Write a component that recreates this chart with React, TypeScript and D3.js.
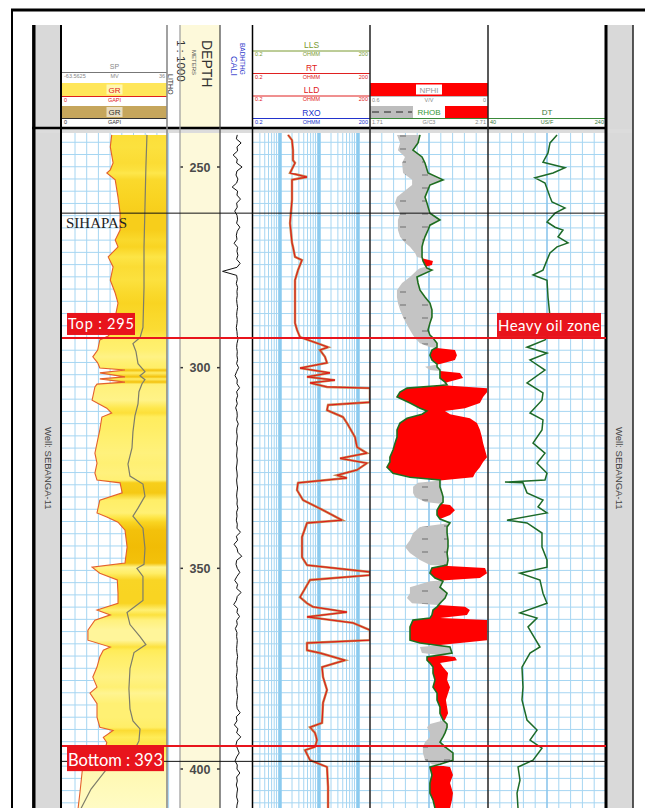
import React, { useEffect, useRef } from "react";
import * as d3 from "d3";

// depth labels on the depth track
const depthTicks = [250, 300, 350, 400];

// GR (GAPI) by depth (m)
const grLog: [number, number][] = [
  [242.0, 71], [245.0, 69], [249.0, 73], [250.7, 69], [251.5, 64], [253.2, 76], [257.5, 80],
  [261.5, 83], [265.7, 83], [268.2, 76], [269.9, 80], [272.4, 66], [274.9, 73], [278.2, 69],
  [281.4, 76], [283.9, 80], [287.4, 76], [290.6, 73], [292.1, 66], [293.1, 54], [295.6, 51],
  [297.3, 44], [298.8, 51], [300.1, 54], [300.6, 90], [301.3, 54], [302.3, 90], [302.8, 54],
  [303.6, 90], [304.1, 50], [304.8, 47], [308.1, 43], [310.1, 64], [311.3, 71], [312.3, 57],
  [315.5, 54], [318.0, 51], [321.3, 47], [323.8, 50], [326.3, 47], [328.0, 50], [328.7, 83],
  [331.2, 86], [333.0, 54], [336.2, 50], [337.2, 64], [338.5, 80], [340.5, 90], [344.7, 93],
  [348.7, 90], [349.7, 43], [351.2, 54], [352.9, 79], [356.2, 80], [358.7, 80], [360.4, 50],
  [361.6, 69], [362.9, 47], [365.4, 37], [367.9, 37], [369.6, 69], [370.4, 59], [372.1, 54],
  [374.6, 50], [377.1, 44], [379.6, 50], [381.1, 40], [383.7, 50], [387.1, 50], [389.6, 54],
  [390.4, 73], [392.1, 59], [393.4, 64], [395.4, 61], [400.3, 29], [405.3, 26], [409.8, 23],
];

// SP (mV) by depth
const spLog: [number, number][] = [
  [242.0, 17.0], [250.0, 16.0], [260.0, 15.1], [270.0, 14.2], [280.0, 14.2], [290.0, 13.2],
  [292.5, 10.4], [294.0, 3.7], [296.0, 6.6], [299.0, 8.5], [301.0, 15.1], [302.0, 10.4],
  [303.0, 15.1], [304.0, 12.3], [306.0, 9.4], [309.0, 8.5], [312.0, 5.6], [316.0, 3.7],
  [320.0, 2.8], [324.0, -1.0], [327.0, 0.9], [329.0, 13.2], [332.0, 15.1], [335.0, 8.5],
  [337.0, 3.7], [340.0, 13.2], [345.0, 15.1], [349.0, 14.2], [350.0, 7.5], [352.0, 13.2],
  [358.0, 13.2], [361.0, -1.9], [364.0, 0.9], [367.0, 10.4], [369.0, 16.0], [371.0, 4.7],
  [375.0, 0.9], [380.0, -0.1], [385.0, 0.9], [388.0, 3.7], [390.0, 10.4], [393.0, 9.4],
  [396.0, 3.7], [399.9, -20.9], [405.0, -36.0], [409.8, -45.5],
];

// caliper (in), one sample per metre from 242 m
const caliTop = 242;
const caliValues = [
  11.4, 11.1, 12.6, 11.3, 11.5, 10.1, 11.4, 11.2, 12.9, 11.3, 11.0, 11.6, 11.2, 9.8, 11.5, 11.3,
  12.4, 11.2, 11.4, 10.6, 11.3,
  11.5, 11.2, 12.2, 11.4, 11.1, 11.3, 10.4, 11.5, 11.3, 11.6, 11.2, 12.3, 11.3, 6.8, 11.2, 11.4,
  11.1, 11.5,
  11.3, 11.4, 11.2, 11.3, 11.5, 11.3, 11.2, 11.4, 11.3, 11.1, 11.3, 11.4, 11.6, 11.3, 11.2, 11.4,
  11.3, 11.5, 11.2,
  11.8, 11.2, 10.7, 11.4, 11.3, 12.1, 11.2, 11.5, 11.1, 11.4, 10.9, 11.3, 11.4, 11.2, 11.7, 11.3,
  11.2, 11.4, 11.3, 11.1, 11.4,
  11.3, 11.2, 11.4, 11.3, 11.1, 11.3, 11.4, 11.2, 11.3, 11.5, 11.3, 11.2, 11.4, 11.3, 11.6, 11.2,
  11.3, 11.1, 11.4,
  11.3, 12.4, 11.1, 11.5, 10.4, 11.3, 11.6, 12.8, 11.2, 11.0, 11.4, 12.2, 11.3, 10.6, 11.5, 11.2,
  12.6, 11.4, 11.1, 10.3, 11.5, 11.3, 12.1, 11.2, 11.4, 10.8,
  11.3, 11.2, 11.4, 11.3, 11.2, 11.3, 11.5, 11.3, 11.2, 11.4, 11.3, 11.1, 11.3, 11.4, 11.2, 11.3,
  11.5, 11.3, 11.2,
  11.4, 12.3, 11.1, 11.3, 10.5, 11.6, 11.2, 12.5, 11.3, 11.0, 11.5, 12.0, 11.2, 10.7, 11.4, 11.3,
  12.2,
  11.2, 11.4, 11.1, 11.5, 11.3, 11.2, 11.6, 11.3, 11.2,
];

// LLD resistivity (ohmm) by depth
const resLog: [number, number][] = [
  [242.0, 1.58], [243.3, 2.0], [245.8, 2.12], [248.3, 2.12], [249.0, 2.39], [251.5, 1.78],
  [252.5, 4.85], [253.2, 2.0], [258.2, 2.0], [264.0, 1.78], [268.9, 2.0], [269.9, 2.12],
  [272.4, 2.39], [273.2, 3.6], [275.7, 2.85], [278.2, 2.39], [283.1, 2.39], [288.9, 2.39],
  [290.6, 2.69], [292.4, 3.21], [293.9, 8.75], [294.9, 16.8], [295.6, 10.4], [297.3, 14.0],
  [298.8, 15.8], [300.1, 3.21], [301.3, 18.8], [302.3, 4.85], [303.1, 25.3], [303.8, 5.79],
  [304.8, 15.8], [305.1, 200], [308.6, 200], [309.3, 16.8], [310.6, 15.8], [312.3, 40.6],
  [313.8, 51.4], [317.3, 82.5], [319.8, 92.9], [321.3, 167], [322.6, 34.0], [323.8, 167],
  [325.5, 92.9], [326.8, 28.5], [327.5, 51.4], [328.7, 2.85], [330.5, 2.69], [333.0, 3.83],
  [335.5, 12.5], [338.0, 38.3], [338.7, 4.85], [342.2, 3.61], [347.2, 3.61], [349.2, 4.85],
  [350.9, 200], [351.7, 200], [352.9, 5.79], [357.2, 3.21], [358.7, 4.85], [359.6, 6.91],
  [360.9, 51.4], [362.1, 4.85], [363.6, 73.3], [365.4, 200], [367.9, 200], [368.6, 4.85],
  [370.4, 4.85], [371.1, 10.4], [372.9, 45.7], [374.6, 11.8], [377.1, 12.5], [380.3, 15.8],
  [383.5, 12.5], [388.5, 11.8], [389.6, 5.79], [391.0, 7.78], [392.8, 8.75], [394.5, 7.78],
  [395.3, 4.31], [397.8, 5.79], [399.5, 15.8], [404.5, 16.8], [409.8, 16.8],
];

// depth (m), RHOB (g/cc), NPHI (v/v)
const densityLog: [number, number, number][] = [
  [242.0, 2.134, 0.463], [244.0, 2.117, 0.447], [245.8, 2.074, 0.458], [247.5, 2.151, 0.422],
  [249.0, 2.176, 0.437], [251.5, 2.202, 0.432], [253.2, 2.329, 0.386], [254.5, 2.218, 0.386],
  [257.5, 2.176, 0.463], [259.0, 2.193, 0.473], [261.5, 2.218, 0.447], [263.2, 2.303, 0.458],
  [264.5, 2.218, 0.458], [265.7, 2.202, 0.458], [267.4, 2.176, 0.447], [268.9, 2.159, 0.422],
  [269.9, 2.151, 0.397], [271.4, 2.151, 0.371], [272.4, 2.151, 0.361], [273.4, 2.159, 0.280],
  [274.4, 2.176, 0.285], [275.2, 2.193, 0.346], [275.7, 2.235, 0.361], [277.4, 2.108, 0.397],
  [278.9, 2.117, 0.437], [280.7, 2.134, 0.463], [282.4, 2.176, 0.463], [283.9, 2.218, 0.458],
  [285.6, 2.235, 0.447], [287.4, 2.235, 0.432], [288.9, 2.218, 0.417], [290.6, 2.202, 0.397],
  [291.9, 2.218, 0.381], [292.6, 2.244, 0.371], [293.9, 2.278, 0.346], [294.9, 2.278, 0.295],
  [295.6, 2.235, 0.168], [296.9, 2.218, 0.158], [298.1, 2.235, 0.168], [299.1, 2.278, 0.244],
  [299.8, 2.278, 0.320], [300.6, 2.303, 0.295], [301.3, 2.303, 0.142], [302.6, 2.303, 0.127],
  [303.6, 2.346, 0.203], [304.3, 2.363, 0.244], [305.1, 2.024, 0.005], [306.1, 1.964, 0.005],
  [307.3, 1.939, 0.025], [308.8, 2.049, 0.041], [310.1, 2.134, 0.117], [310.8, 2.193, 0.219],
  [311.6, 2.151, 0.193], [312.6, 2.024, 0.092], [313.8, 1.964, 0.056], [315.5, 1.939, 0.041],
  [317.3, 1.939, 0.031], [318.8, 1.922, 0.025], [320.5, 1.905, 0.015], [322.3, 1.879, 0.005],
  [323.5, 1.879, 0.025], [324.8, 1.854, 0.041], [326.3, 1.905, 0.066], [327.3, 2.049, 0.076],
  [328.0, 2.303, 0.219], [328.7, 2.303, 0.356], [329.7, 2.303, 0.381], [331.2, 2.320, 0.381],
  [332.2, 2.329, 0.371], [333.5, 2.329, 0.320], [334.2, 2.303, 0.193], [335.5, 2.278, 0.168],
  [336.7, 2.278, 0.193], [337.7, 2.303, 0.244], [338.7, 2.388, 0.193], [339.7, 2.363, 0.346],
  [341.2, 2.363, 0.381], [343.0, 2.371, 0.397], [344.7, 2.371, 0.422], [346.2, 2.363, 0.397],
  [347.9, 2.371, 0.346], [349.2, 2.363, 0.295], [349.9, 2.235, 0.015], [351.2, 2.218, 0.005],
  [352.4, 2.261, 0.041], [353.2, 2.329, 0.295], [354.7, 2.303, 0.397], [356.2, 2.363, 0.397],
  [357.4, 2.346, 0.412], [358.7, 2.303, 0.386], [359.6, 2.278, 0.117], [360.4, 2.244, 0.092],
  [361.6, 2.235, 0.107], [362.4, 2.218, 0.244], [362.9, 2.074, 0.005], [364.6, 2.049, 0.005],
  [366.1, 2.049, 0.005], [367.9, 2.049, 0.005], [368.6, 2.134, 0.142], [369.6, 2.388, 0.346],
  [371.1, 2.405, 0.336], [372.1, 2.193, 0.168], [372.9, 2.193, 0.158], [373.6, 2.218, 0.244],
  [374.6, 2.244, 0.229], [376.1, 2.244, 0.203], [377.8, 2.261, 0.208], [379.6, 2.244, 0.193],
  [381.1, 2.278, 0.203], [382.8, 2.278, 0.214], [384.6, 2.303, 0.208], [386.1, 2.303, 0.203],
  [387.8, 2.329, 0.219], [388.8, 2.363, 0.295], [389.6, 2.363, 0.310], [391.0, 2.346, 0.295],
  [392.0, 2.329, 0.295], [393.3, 2.303, 0.320], [394.5, 2.346, 0.331], [396.0, 2.413, 0.331],
  [397.8, 2.413, 0.320], [398.8, 2.303, 0.285], [399.5, 2.218, 0.193], [401.5, 2.235, 0.178],
  [403.5, 2.218, 0.193], [406.0, 2.218, 0.178], [407.7, 2.244, 0.183], [409.8, 2.261, 0.193],
];

// DT (us/ft) by depth
const dtLog: [number, number][] = [
  [242.0, 157.0], [244.0, 145.1], [246.5, 141.7], [248.8, 133.2], [250.2, 170.5], [251.5, 150.2],
  [252.7, 119.7], [254.0, 136.6], [257.5, 145.1], [258.7, 148.5], [260.2, 170.5], [261.5, 153.6],
  [263.7, 140.0], [265.0, 153.6], [265.7, 167.1], [267.4, 158.7], [268.9, 175.6], [269.9, 157.0],
  [271.4, 145.1], [273.2, 140.0], [275.7, 133.2], [276.9, 116.3], [278.2, 140.0], [282.4, 141.7],
  [287.4, 145.1], [290.6, 148.5], [293.1, 136.6], [294.9, 106.1], [296.4, 140.0], [298.1, 111.2],
  [300.6, 136.6], [303.8, 106.1], [306.3, 133.2], [308.1, 131.5], [311.3, 111.2], [313.0, 133.2],
  [315.5, 131.5], [318.8, 116.3], [321.3, 136.6], [323.8, 123.1], [326.3, 140.0], [328.0, 136.6],
  [328.5, 68.8], [328.7, 99.3], [331.2, 106.1], [333.0, 133.2], [334.7, 124.8], [336.2, 140.0],
  [338.0, 72.2], [338.7, 106.1], [341.2, 131.5], [344.7, 131.5], [347.9, 140.0], [349.7, 140.0],
  [351.2, 94.2], [352.9, 128.1], [356.2, 133.2], [358.7, 140.0], [361.1, 94.2], [362.4, 123.1],
  [364.6, 107.8], [369.6, 128.1], [371.1, 111.2], [374.6, 97.6], [379.6, 99.3], [382.8, 97.6],
  [387.8, 106.1], [390.3, 123.1], [392.8, 111.2], [394.8, 131.5], [397.8, 116.3], [399.5, 90.9],
  [402.8, 94.2], [406.0, 89.2], [409.8, 90.9],
];

// formation markers
const markerNames = ["SIHAPAS", ""];
const markerDepths = [261.5, 398.1];

// zone top / bottom picks
const zoneLabels = ["Top : 295", "Bottom : 393"];
const zoneDepths = [292.6, 394.3];
const zoneNote = "Heavy oil zone";

const wellName = "Well: SEBANGA-11";

const App = () => {
  const svgRef = useRef<SVGSVGElement>(null);

  useEffect(() => {
    const svg = d3.select(svgRef.current);
    svg.selectAll("*").remove();

    const W = 645;
    const H = 808;
    const headTop = 25;
    const bodyTop = 133;

    const tr = {
      gr: [62, 167],
      litho: [167, 180],
      depth: [180, 220],
      cali: [220, 252],
      res: [253, 370],
      dens: [370, 488],
      dt: [488, 606],
    };

    const y = d3.scaleLinear().domain([250, 400]).range([167, 769]);
    const grX = d3.scaleLinear().domain([0, 150]).range(tr.gr);
    const spX = d3.scaleLinear().domain([-63.5625, 36]).range(tr.gr);
    const caliX = d3.scaleLinear().domain([6, 16]).range(tr.cali);
    const resX = d3.scaleLog().domain([0.2, 200]).range(tr.res);
    const rhobX = d3.scaleLinear().domain([1.71, 2.71]).range(tr.dens);
    const nphiX = d3.scaleLinear().domain([0.6, 0]).range(tr.dens);
    const dtX = d3.scaleLinear().domain([40, 240]).range(tr.dt);

    const sans = "'Liberation Sans', Arial, sans-serif";
    const label = "Lato, 'Open Sans', sans-serif";

    svg.append("rect").attr("width", W).attr("height", H).attr("fill", "#fff");

    const defs = svg.append("defs");
    const clipTrack = (id: string, x0: number, x1: number) =>
      defs
        .append("clipPath")
        .attr("id", id)
        .append("rect")
        .attr("x", x0)
        .attr("y", bodyTop)
        .attr("width", x1 - x0)
        .attr("height", H - bodyTop);
    clipTrack("c-gr", tr.gr[0], tr.gr[1]);
    clipTrack("c-cali", tr.cali[0], tr.cali[1]);
    clipTrack("c-res", tr.res[0], tr.res[1]);
    clipTrack("c-dens", tr.dens[0], tr.dens[1]);
    clipTrack("c-dt", tr.dt[0], tr.dt[1]);

    // GR colour fill gradient
    const grColor = d3
      .scaleLinear<string>()
      .domain([35, 60, 80, 95])
      .range(["#fff6a0", "#ffec55", "#f9d422", "#f0b800"]);
    const gy0 = y(grLog[0][0]);
    const gy1 = y(grLog[grLog.length - 1][0]);
    const grad = defs
      .append("linearGradient")
      .attr("id", "grFill")
      .attr("gradientUnits", "userSpaceOnUse")
      .attr("x1", 0)
      .attr("x2", 0)
      .attr("y1", gy0)
      .attr("y2", gy1);
    grLog.forEach(([d, v]) => {
      grad
        .append("stop")
        .attr("offset", (y(d) - gy0) / (gy1 - gy0))
        .attr("stop-color", grColor(v));
    });

    // shale pattern for density/neutron
    const pat = defs
      .append("pattern")
      .attr("id", "shale")
      .attr("patternUnits", "userSpaceOnUse")
      .attr("width", 22)
      .attr("height", 13);
    pat.append("rect").attr("width", 22).attr("height", 13).attr("fill", "#c4c4c4");
    pat.append("line").attr("x1", 4).attr("x2", 10).attr("y1", 6).attr("y2", 6).attr("stroke", "#555").attr("stroke-width", 0.8);

    // density crossover clip paths
    defs
      .append("clipPath")
      .attr("id", "c-left")
      .append("path")
      .attr(
        "d",
        d3
          .area<[number, number, number]>()
          .x0(tr.dens[0])
          .x1((d) => rhobX(d[1]))
          .y((d) => y(d[0]))(densityLog)
      );
    defs
      .append("clipPath")
      .attr("id", "c-right")
      .append("path")
      .attr(
        "d",
        d3
          .area<[number, number, number]>()
          .x0((d) => rhobX(d[1]))
          .x1(tr.dens[1])
          .y((d) => y(d[0]))(densityLog)
      );

    // ---------- outer frame and side strips ----------
    svg.append("line").attr("x1", 11).attr("x2", W).attr("y1", 10).attr("y2", 10).attr("stroke", "#000").attr("stroke-width", 3);
    svg.append("line").attr("x1", 12).attr("x2", 12).attr("y1", 9).attr("y2", H).attr("stroke", "#000").attr("stroke-width", 2);

    svg.append("rect").attr("x", 35).attr("y", headTop).attr("width", 26).attr("height", H - headTop).attr("fill", "#d9d9d9");
    svg.append("rect").attr("x", 607).attr("y", headTop).attr("width", 26).attr("height", H - headTop).attr("fill", "#d9d9d9");
    svg.append("rect").attr("x", tr.depth[0]).attr("y", headTop).attr("width", 40).attr("height", H - headTop).attr("fill", "#fdf9da");

    // ---------- header ----------
    const head = svg.append("g").attr("font-family", sans);
    const scaleRow = (x0: number, x1: number, yy: number, l: string, u: string, r: string, color: string) => {
      head.append("text").attr("x", x0 + 2).attr("y", yy).attr("font-size", 5.5).attr("fill", color).text(l);
      head.append("text").attr("x", (x0 + x1) / 2).attr("y", yy).attr("font-size", 5.5).attr("text-anchor", "middle").attr("fill", color).text(u);
      head.append("text").attr("x", x1 - 2).attr("y", yy).attr("font-size", 5.5).attr("text-anchor", "end").attr("fill", color).text(r);
    };
    const hline = (x0: number, x1: number, yy: number, color: string, w = 1) =>
      head.append("line").attr("x1", x0).attr("x2", x1).attr("y1", yy).attr("y2", yy).attr("stroke", color).attr("stroke-width", w);
    const boxText = (cx: number, cy: number, w: number, txt: string, color: string, bg: string) => {
      head.append("rect").attr("x", cx - w / 2).attr("y", cy - 5).attr("width", w).attr("height", 10).attr("fill", bg);
      head.append("text").attr("x", cx).attr("y", cy + 3).attr("font-size", 8).attr("text-anchor", "middle").attr("fill", color).text(txt);
    };

    // GR / SP track header
    const gc = (tr.gr[0] + tr.gr[1]) / 2;
    head.append("text").attr("x", gc).attr("y", 69).attr("font-size", 7).attr("text-anchor", "middle").attr("fill", "#888").text("SP");
    hline(tr.gr[0], tr.gr[1], 72.5, "#777");
    scaleRow(tr.gr[0], tr.gr[1], 78, "-63.5625", "MV", "36", "#888");
    head.append("rect").attr("x", tr.gr[0]).attr("y", 83).attr("width", 105).attr("height", 13).attr("fill", "#ffe65a");
    boxText(gc, 89.5, 16, "GR", "#e02020", "#fff7b0");
    hline(tr.gr[0], tr.gr[1], 96.5, "#e02020");
    scaleRow(tr.gr[0], tr.gr[1], 101.5, "0", "GAPI", "", "#e02020");
    head.append("rect").attr("x", tr.gr[0]).attr("y", 106).attr("width", 105).attr("height", 12).attr("fill", "#c6a65c");
    boxText(gc, 112, 16, "GR", "#333", "#e8dcc0");
    hline(tr.gr[0], tr.gr[1], 118.5, "#333");
    scaleRow(tr.gr[0], tr.gr[1], 124, "0", "GAPI", "", "#333");

    // depth header (rotated)
    const rot = (x: number, yy: number, size: number, txt: string, color = "#333") =>
      head
        .append("text")
        .attr("transform", `translate(${x},${yy}) rotate(90)`)
        .attr("font-size", size)
        .attr("fill", color)
        .text(txt);
    rot(202, 40, 14, "DEPTH");
    rot(192, 50, 6, "METERS", "#555");
    rot(177, 40, 11.5, "1 : 1000");
    rot(168, 74, 7, "LITHO");
    rot(240, 43, 6.5, "BADHTHG", "#3340cc");
    rot(231, 56, 9, "CALI", "#3340cc");

    // resistivity header
    const rc = (tr.res[0] + tr.res[1]) / 2;
    const resRows: [string, string, number][] = [
      ["LLS", "#7a9a30", 51],
      ["RT", "#e02020", 73.5],
      ["LLD", "#e02020", 96],
      ["RXO", "#2233cc", 118.5],
    ];
    resRows.forEach(([name, color, ly]) => {
      head.append("text").attr("x", rc).attr("y", ly - 3).attr("font-size", 8.5).attr("text-anchor", "middle").attr("fill", color).text(name);
      hline(tr.res[0], tr.res[1], ly, color);
      scaleRow(tr.res[0], tr.res[1], ly + 5, "0.2", "OHMM", "200", color);
    });

    // density / neutron header
    const dc = (tr.dens[0] + tr.dens[1]) / 2;
    head.append("rect").attr("x", tr.dens[0]).attr("y", 83).attr("width", 118).attr("height", 13).attr("fill", "#ff0000");
    boxText(dc, 89.5, 26, "NPHI", "#999", "#fff");
    hline(tr.dens[0], tr.dens[1], 96.5, "#bbb");
    scaleRow(tr.dens[0], tr.dens[1], 101.5, "0.6", "V/V", "0", "#888");
    head.append("rect").attr("x", tr.dens[0]).attr("y", 106).attr("width", 43).attr("height", 12).attr("fill", "#bdbdbd");
    head.append("rect").attr("x", 445).attr("y", 106).attr("width", 43).attr("height", 12).attr("fill", "#ff0000");
    head.append("line").attr("x1", 372).attr("x2", 412).attr("y1", 112).attr("y2", 112).attr("stroke", "#222").attr("stroke-dasharray", "7,5");
    boxText(429, 112, 32, "RHOB", "#3a9a3a", "#fff");
    hline(tr.dens[0], tr.dens[1], 118.5, "#3a8a3a", 1.2);
    scaleRow(tr.dens[0], tr.dens[1], 124, "1.71", "G/C3", "2.71", "#888");

    // DT header
    const tc = (tr.dt[0] + tr.dt[1]) / 2;
    head.append("text").attr("x", tc).attr("y", 115).attr("font-size", 8).attr("text-anchor", "middle").attr("fill", "#3a7a3a").text("DT");
    hline(tr.dt[0], tr.dt[1], 118.5, "#3a8a3a", 1.2);
    scaleRow(tr.dt[0], tr.dt[1], 124, "40", "US/F", "240", "#3a7a3a");

    // header / body separator
    svg.append("rect").attr("x", 35).attr("y", 129).attr("width", 598).attr("height", 4).attr("fill", "#dcdcdc");
    svg.append("line").attr("x1", 32).attr("x2", 607).attr("y1", 128).attr("y2", 128).attr("stroke", "#000").attr("stroke-width", 2.5);

    // ---------- grids ----------
    const grid = svg.append("g").attr("stroke", "#a6d6f2").attr("stroke-width", 1);
    const hDepths = d3.range(Math.ceil(241 / 3.048), Math.floor(410 / 3.048) + 1).map((k) => k * 3.048);
    const hTracks = [tr.gr, tr.res, tr.dens, tr.dt];
    hTracks.forEach(([x0, x1]) => {
      hDepths.forEach((d) => {
        grid.append("line").attr("x1", x0).attr("x2", x1).attr("y1", y(d)).attr("y2", y(d));
      });
    });
    const vLine = (x: number, w = 1, color = "#a6d6f2") =>
      grid.append("line").attr("x1", x).attr("x2", x).attr("y1", bodyTop).attr("y2", H).attr("stroke-width", w).attr("stroke", color);
    d3.range(1, 10).forEach((i) => vLine(63.3 + i * 11.7));
    [tr.dens, tr.dt].forEach(([x0, x1]) => {
      d3.range(1, 10).forEach((i) => vLine(x0 + ((x1 - x0) * i) / 10, i === 5 ? 1.6 : 1, i === 5 ? "#8cc6ec" : "#a6d6f2"));
    });
    [0.1, 1, 10, 100].forEach((base) => {
      d3.range(1, 10).forEach((m) => {
        const v = m * base;
        if (v > 0.2 && v < 200) vLine(resX(v), m === 1 ? 3 : 1, m === 1 ? "#8ccbef" : "#a6d6f2");
      });
    });

    // ---------- curves ----------
    const body = svg.append("g");

    // GR colour fill and curves
    const grArea = d3
      .area<[number, number]>()
      .x0((d) => grX(d[1]))
      .x1(tr.gr[1])
      .y((d) => y(d[0]));
    const gG = body.append("g").attr("clip-path", "url(#c-gr)");
    gG.append("path").attr("d", grArea(grLog)).attr("fill", "url(#grFill)");
    gG.append("path")
      .attr("d", d3.line<[number, number]>().x((d) => grX(d[1])).y((d) => y(d[0]))(grLog))
      .attr("fill", "none")
      .attr("stroke", "#e4602c")
      .attr("stroke-width", 1.1);
    gG.append("path")
      .attr("d", d3.line<[number, number]>().x((d) => spX(d[1])).y((d) => y(d[0]))(spLog))
      .attr("fill", "none")
      .attr("stroke", "#7d7d6a")
      .attr("stroke-width", 1.2);

    // caliper
    body
      .append("g")
      .attr("clip-path", "url(#c-cali)")
      .append("path")
      .attr("d", d3.line<number>().x((v) => caliX(v)).y((v, i) => y(caliTop + i))(caliValues))
      .attr("fill", "none")
      .attr("stroke", "#111")
      .attr("stroke-width", 1);

    // resistivity
    const resLine = d3.line<[number, number]>().x((d) => resX(d[1])).y((d) => y(d[0]));
    const rG = body.append("g").attr("clip-path", "url(#c-res)");
    rG.append("path").attr("d", resLine(resLog)).attr("fill", "none").attr("stroke", "#c8844c").attr("stroke-width", 2.4);
    rG.append("path").attr("d", resLine(resLog)).attr("fill", "none").attr("stroke", "#e01818").attr("stroke-width", 1);

    // density / neutron crossover
    const between = d3
      .area<[number, number, number]>()
      .x0((d) => nphiX(d[2]))
      .x1((d) => rhobX(d[1]))
      .y((d) => y(d[0]));
    const dG = body.append("g").attr("clip-path", "url(#c-dens)");
    dG.append("path").attr("d", between(densityLog)).attr("fill", "url(#shale)").attr("clip-path", "url(#c-left)");
    dG.append("path").attr("d", between(densityLog)).attr("fill", "#ff0000").attr("clip-path", "url(#c-right)");
    dG.append("path")
      .attr("d", d3.line<[number, number, number]>().x((d) => rhobX(d[1])).y((d) => y(d[0]))(densityLog))
      .attr("fill", "none")
      .attr("stroke", "#1f6e1f")
      .attr("stroke-width", 1.6);

    // DT
    body
      .append("g")
      .attr("clip-path", "url(#c-dt)")
      .append("path")
      .attr("d", d3.line<[number, number]>().x((d) => dtX(d[1])).y((d) => y(d[0]))(dtLog))
      .attr("fill", "none")
      .attr("stroke", "#1d6a28")
      .attr("stroke-width", 1.5);

    // depth labels
    const dl = svg.append("g").attr("font-family", sans);
    depthTicks.forEach((d) => {
      dl.append("line").attr("x1", tr.depth[0]).attr("x2", tr.depth[0] + 3).attr("y1", y(d)).attr("y2", y(d)).attr("stroke", "#333").attr("stroke-width", 1.5);
      dl.append("line").attr("x1", tr.depth[1] - 3).attr("x2", tr.depth[1]).attr("y1", y(d)).attr("y2", y(d)).attr("stroke", "#333").attr("stroke-width", 1.5);
      dl.append("text")
        .attr("x", (tr.depth[0] + tr.depth[1]) / 2)
        .attr("y", y(d) + 4.5)
        .attr("text-anchor", "middle")
        .attr("font-size", 12.5)
        .attr("font-weight", "bold")
        .attr("fill", "#4a4a4a")
        .text(d);
    });

    // ---------- track borders ----------
    const vb = (x: number, color: string, w: number, y0 = headTop) =>
      svg.append("line").attr("x1", x).attr("x2", x).attr("y1", y0).attr("y2", H).attr("stroke", color).attr("stroke-width", w);
    vb(33.8, "#000", 3.4);
    vb(61, "#000", 2);
    vb(167, "#8a8a8a", 1.6);
    vb(180, "#9a9a9a", 1.2);
    vb(220, "#444", 1.2);
    vb(252.5, "#000", 1.5);
    vb(370, "#222", 1.5);
    vb(488, "#222", 1.5);
    vb(606, "#000", 3);
    vb(633, "#222", 1.5);

    // ---------- markers ----------
    const mk = svg.append("g");
    markerDepths.forEach((d, i) => {
      mk.append("line").attr("x1", tr.gr[0]).attr("x2", tr.dt[1]).attr("y1", y(d)).attr("y2", y(d)).attr("stroke", "#111").attr("stroke-width", 1);
      if (markerNames[i])
        mk.append("text")
          .attr("x", 66)
          .attr("y", y(d) + 15)
          .attr("font-family", "'Liberation Serif', 'Times New Roman', serif")
          .attr("font-size", 15)
          .attr("fill", "#222")
          .text(markerNames[i]);
    });

    zoneDepths.forEach((d, i) => {
      const yy = y(d);
      mk.append("line").attr("x1", tr.gr[0]).attr("x2", tr.dt[1]).attr("y1", yy).attr("y2", yy).attr("stroke", "#e8141c").attr("stroke-width", 2);
      const isTop = i === 0;
      const bx = 67;
      const bw = isTop ? 68 : 97;
      const by = isTop ? yy - 25 : yy;
      const bh = isTop ? 22 : 25;
      mk.append("rect").attr("x", bx).attr("y", by).attr("width", bw).attr("height", bh).attr("fill", "#e8141c");
      mk.append("text")
        .attr("x", bx + 1)
        .attr("y", by + bh - 5.5)
        .attr("font-family", label)
        .attr("font-size", isTop ? 14.5 : 16.5)
        .attr("fill", "#fff")
        .attr("textLength", bw - 2)
        .text(zoneLabels[i]);
      if (isTop) {
        mk.append("rect").attr("x", 497).attr("y", yy - 25).attr("width", 104).attr("height", 24).attr("fill", "#e8141c");
        mk.append("text")
          .attr("x", 498)
          .attr("y", yy - 7)
          .attr("font-family", label)
          .attr("font-size", 15)
          .attr("fill", "#fff")
          .attr("textLength", 102)
          .text(zoneNote);
      }
    });

    // well name on side strips
    [44.5, 616].forEach((x) => {
      svg
        .append("text")
        .attr("transform", `translate(${x},427) rotate(90)`)
        .attr("font-family", sans)
        .attr("font-size", 9.5)
        .attr("fill", "#444")
        .text(wellName);
    });
  }, []);

  return (
    <svg
      ref={svgRef}
      width={645}
      height={808}
      style={{ position: "absolute", left: 0, top: 0, display: "block" }}
    ></svg>
  );
};

export default App;
